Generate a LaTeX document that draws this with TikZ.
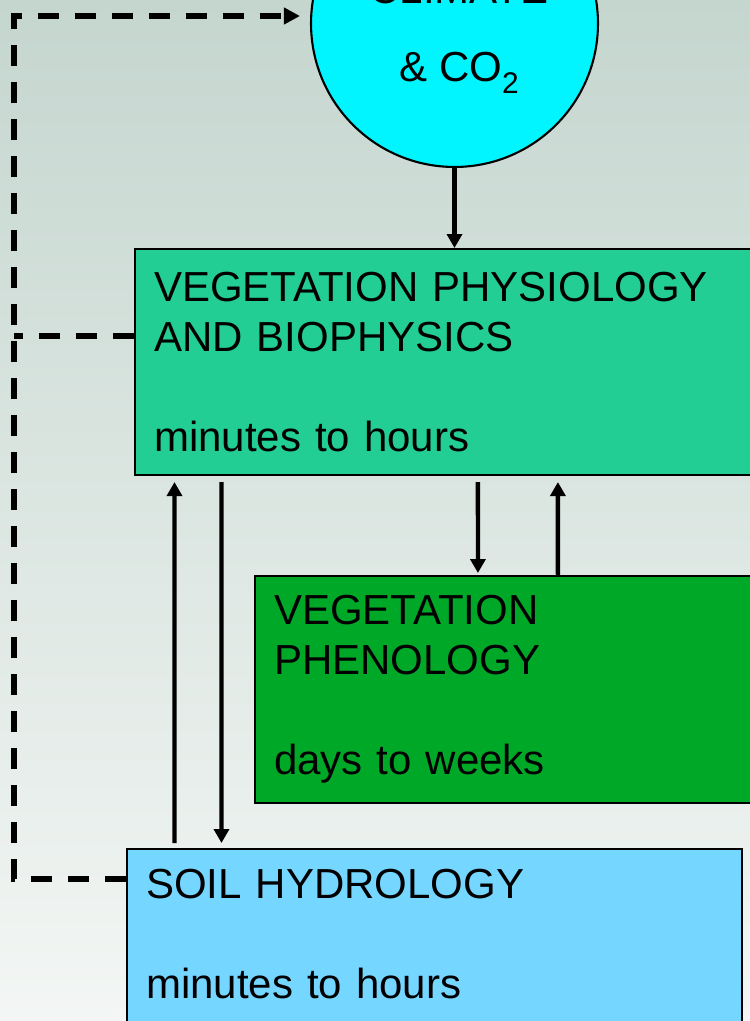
\documentclass[tikz,border=0pt]{standalone}
\usepackage{fontspec}
\setmainfont{Liberation Sans}
\usetikzlibrary{arrows.meta,positioning,calc}

\definecolor{bgtop}{RGB}{197,214,207}
\definecolor{bgbot}{RGB}{243,246,244}
\definecolor{climcol}{RGB}{0,245,255}
\definecolor{physcol}{RGB}{34,206,148}
\definecolor{phencol}{RGB}{0,168,40}
\definecolor{soilcol}{RGB}{117,214,255}

\begin{document}
\begin{tikzpicture}[x=0.02cm,y=-0.02cm,
        every node/.style={font=\fontsize{23.9pt}{28.45pt}\selectfont},
        box/.style={draw,rectangle,line width=1.2pt,anchor=north west,align=left,inner xsep=0.38cm,inner ysep=0pt},
        clim/.style={draw,circle,fill=climcol,line width=1.2pt,minimum size=5.74cm,inner sep=0pt},
        flow/.style={line width=2.5pt,-{Triangle[length=0.28cm,width=0.3cm]}},
        link/.style={line width=3.2pt,dash pattern=on 0.42cm off 0.32cm}]
   \useasboundingbox (0,0) rectangle (750,1021);
   \clip (0,0) rectangle (750,1021);
   \fill[top color=bgtop,bottom color=bgbot] (0,0) rectangle (750,1021);

   \node (CL) [clim] at (454.5,23.5) {};
   \node (CLt) [align=center] at (459,34) {CLIMATE\\[0.56cm]\& CO\raisebox{-0.28em}{\fontsize{17pt}{17pt}\selectfont 2}};
   \node (VP) [box,fill=physcol,text width=11.76cm,minimum height=4.52cm] at (134,248) {VEGETATION PHYSIOLOGY\\AND BIOPHYSICS\\[1cm]minutes to hours};
   \node (PH) [box,fill=phencol,text width=9.36cm,minimum height=4.54cm] at (254,575) {VEGETATION\\PHENOLOGY\\[1cm]days to weeks};
   \node (SH) [box,fill=soilcol,text width=11.54cm,minimum height=4.39cm] at (126,848) {SOIL HYDROLOGY\\[1cm]minutes to hours\\\mbox{}};

   \coordinate (TL) at (14,16);
   \coordinate (ML) at (14,336);
   \coordinate (BL) at (14,879);

   \draw[link,-{Triangle[length=0.32cm,width=0.32cm]},shorten >=0.2cm] (SH.west |- BL) -- (BL) -- (TL) -- (TL -| CL.west);
   \draw[link] (VP.west |- ML) -- (ML);

   \draw[flow] (CL.south) -- (CL.south |- VP.north);
   \draw[flow] ([xshift=0.97cm,yshift=0.1cm]SH.north west) -- ([xshift=0.81cm,yshift=-0.12cm]VP.south west);
   \draw[flow] ([xshift=1.75cm,yshift=-0.12cm]VP.south west) -- ([xshift=1.91cm,yshift=0.1cm]SH.north west);
   \draw[flow] ([xshift=6.88cm,yshift=-0.12cm]VP.south west) -- ([xshift=4.48cm,yshift=0.04cm]PH.north west);
   \draw[flow] ([xshift=6.08cm]PH.north west) -- ([xshift=8.48cm,yshift=-0.12cm]VP.south west);
\end{tikzpicture}
\end{document}
